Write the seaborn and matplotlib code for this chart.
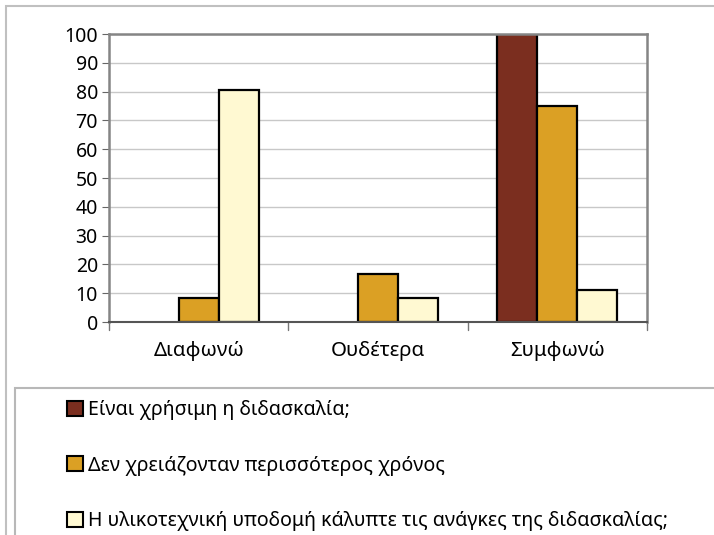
import matplotlib
matplotlib.use("Agg")
import matplotlib.pyplot as plt
from matplotlib.patches import Rectangle
import seaborn as sns
import pandas as pd

categories = ["Διαφωνώ", "Ουδέτερα", "Συμφωνώ"]
series_names = [
    "Είναι χρήσιμη η διδασκαλία;",
    "Δεν χρειάζονταν περισσότερος χρόνος",
    "Η υλικοτεχνική υποδομή κάλυπτε τις ανάγκες της διδασκαλίας;",
]
useful = [0, 0, 100]
more_time = [8.3, 16.7, 75]
infrastructure = [80.6, 8.3, 11.1]
colors = ["#7B2E1F", "#DBA024", "#FFF9D2"]

rows = []
for name, vals in zip(series_names, [useful, more_time, infrastructure]):
    for cat, v in zip(categories, vals):
        rows.append({"cat": cat, "series": name, "value": v})
df = pd.DataFrame(rows)

sns.set_style("white")
plt.rcParams["font.family"] = ["Noto Sans", "DejaVu Sans"]
plt.rcParams["text.color"] = "black"
plt.rcParams["xtick.color"] = "black"
plt.rcParams["ytick.color"] = "black"

W, H = 714, 535
fig = plt.figure(figsize=(W / 100, H / 100), dpi=100)
ax = fig.add_axes([109 / W, 1 - 322 / H, (647 - 109) / W, (322 - 34) / H])

sns.barplot(data=df, x="cat", y="value", hue="series", palette=colors,
            width=0.67, edgecolor="black", linewidth=1.6, ax=ax, legend=False,
            order=categories, hue_order=series_names, saturation=1)
# empty categories carry no visible bar
for p in ax.patches:
    if p.get_height() == 0:
        p.set_visible(False)

ax.set_ylim(0, 100)
ax.set_xlim(-0.5, 2.5)
ax.set_yticks(range(0, 101, 10))
ax.yaxis.grid(True, color="#c8c8c8", linewidth=1)
ax.set_axisbelow(True)
ax.set_xlabel("")
ax.set_ylabel("")
for s in ["top", "right", "left"]:
    ax.spines[s].set_color("#858585")
    ax.spines[s].set_linewidth(1.8)
ax.spines["bottom"].set_color("#555555")
ax.spines["bottom"].set_linewidth(1.5)
ax.tick_params(axis="y", labelsize=14, length=5, color="#666666", left=True, pad=3)
ax.set_xticks([0, 1, 2])
ax.set_xticklabels(categories, fontsize=14.7)
ax.tick_params(axis="x", length=0, pad=14)
# category separators under the axis
for xb in [-0.5, 0.5, 1.5, 2.5]:
    ax.plot([xb, xb], [0, -2.8], color="#777777", linewidth=1, clip_on=False)

# chart and legend frames
fig.patches.append(Rectangle((6 / W, -0.05), 720 / W, 1 - 6 / H + 0.05,
                             transform=fig.transFigure, fill=False,
                             edgecolor="#c0c0c0", linewidth=1.5))
fig.patches.append(Rectangle((15 / W, -0.05), 720 / W, 1 - 388 / H + 0.05,
                             transform=fig.transFigure, fill=False,
                             edgecolor="#b8b8b8", linewidth=1.5))

handles = [Rectangle((0, 0), 1, 1, facecolor=c, edgecolor="black", linewidth=1.5)
           for c in colors]
fig.legend(handles, series_names, loc="upper left",
           bbox_to_anchor=(67 / W, 1 - 400 / H), frameon=False,
           fontsize=14.1, handlelength=0.82, handleheight=0.82, handletextpad=0.25,
           labelspacing=1.82, borderaxespad=0, borderpad=0)

fig.savefig("out.png", dpi=100)
